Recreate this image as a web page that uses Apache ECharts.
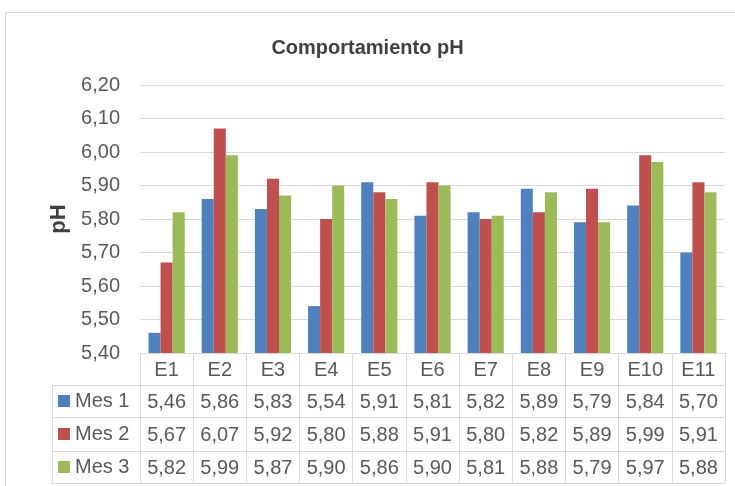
<!DOCTYPE html>
<html>
<head>
<meta charset="utf-8">
<script src="https://cdn.jsdelivr.net/npm/echarts@6/dist/echarts.min.js"></script>
<style>
html,body{margin:0;padding:0;background:#fff;}
#main{width:735px;height:486px;}
</style>
</head>
<body>
<div id="main"></div>
<script>
const categories = ['E1','E2','E3','E4','E5','E6','E7','E8','E9','E10','E11'];
const seriesNames = ['Mes 1','Mes 2','Mes 3'];
const mes1 = [5.46,5.86,5.83,5.54,5.91,5.81,5.82,5.89,5.79,5.84,5.70];
const mes2 = [5.67,6.07,5.92,5.80,5.88,5.91,5.80,5.82,5.89,5.99,5.91];
const mes3 = [5.82,5.99,5.87,5.90,5.86,5.90,5.81,5.88,5.79,5.97,5.88];
const seriesValues = [mes1, mes2, mes3];
const colors = ['#4F81BD','#C0504D','#9BBB59'];
const yMin = 5.4, yMax = 6.2, yInterval = 0.1;

const FONT = 'Liberation Sans, Arial, sans-serif';
const GRID = {left:140, right:10, top:85, bottom:133};
const tableRows = [385, 417, 451, 483];
const tableLeft = 52;
const fmt = v => v.toFixed(2).replace('.', ',');

const chart = echarts.init(document.getElementById('main'), null, {renderer:'canvas'});
const option = {
  animation:false,
  backgroundColor:'#fff',
  title:{
    text:'Comportamiento pH', left:'center', top:33,
    textStyle:{fontFamily:FONT, fontSize:20, fontWeight:'bold', color:'#404040'}
  },
  legend:{
    orient:'vertical', left:58, top:391, padding:0,
    itemWidth:12, itemHeight:12, itemGap:13,
    icon:'rect',
    data:seriesNames,
    selectedMode:false,
    textStyle:{fontFamily:FONT, fontSize:20, lineHeight:20, color:'#595959', padding:[0,0,0,0]}
  },
  grid:GRID,
  xAxis:{
    type:'category', data:categories,
    axisLine:{show:true, lineStyle:{color:'#d9d9d9'}},
    axisTick:{show:true, length:130, lineStyle:{color:'#d9d9d9'}},
    axisLabel:{fontFamily:FONT, fontSize:20, color:'#595959', margin:7}
  },
  yAxis:{
    type:'value', min:yMin, max:yMax, interval:yInterval,
    name:'pH', nameLocation:'middle', nameRotate:90, nameGap:68,
    nameTextStyle:{fontFamily:FONT, fontSize:22, fontWeight:'bold', color:'#404040'},
    axisLine:{show:false}, axisTick:{show:false},
    axisLabel:{fontFamily:FONT, fontSize:20, color:'#595959', margin:20, formatter:fmt},
    splitLine:{lineStyle:{color:'#d9d9d9'}}
  },
  series: seriesNames.map((n,i)=>({
    name:n, type:'bar', data:seriesValues[i],
    itemStyle:{color:colors[i]},
    barGap:'0%', barCategoryGap:'32%'
  }))
};
chart.setOption(option);

// table (drawn from data, positioned via the category axis scale)
const graphics = [];
const W = 735;
graphics.push({type:'rect', shape:{x:5.5, y:12.5, width:800, height:600},
  style:{fill:'none', stroke:'#d9d9d9', lineWidth:1}, silent:true});
const xRight = W - GRID.right;
tableRows.forEach(y=>{
  graphics.push({type:'line', shape:{x1:tableLeft, y1:y+0.5, x2:xRight, y2:y+0.5},
    style:{stroke:'#d9d9d9', lineWidth:1}, silent:true});
});
graphics.push({type:'line', shape:{x1:tableLeft+0.5, y1:tableRows[0], x2:tableLeft+0.5, y2:tableRows[3]},
  style:{stroke:'#d9d9d9', lineWidth:1}, silent:true});
seriesValues.forEach((vals, r)=>{
  const yc = (tableRows[r] + tableRows[r+1]) / 2 + 1;
  vals.forEach((v, c)=>{
    const x = chart.convertToPixel({xAxisIndex:0}, categories[c]);
    graphics.push({type:'text', x:x, y:yc, silent:true,
      style:{text:fmt(v), fontFamily:FONT, fontSize:20, fill:'#595959', align:'center', verticalAlign:'middle'}});
  });
});
chart.setOption({graphic:graphics});
</script>
</body>
</html>
